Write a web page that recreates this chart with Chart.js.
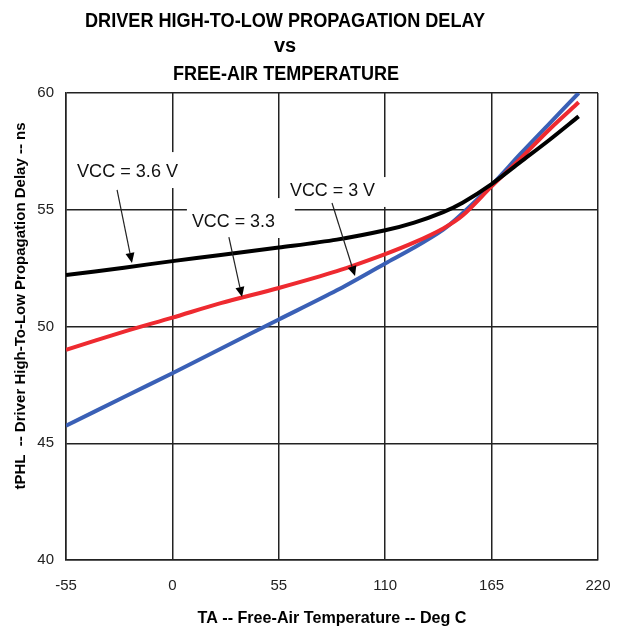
<!DOCTYPE html>
<html>
<head>
<meta charset="utf-8">
<script src="https://cdn.jsdelivr.net/npm/chart.js@4/dist/chart.umd.min.js"></script>
<style>
  html, body { margin: 0; padding: 0; background: #fff; }
  #wrap { position: relative; width: 622px; height: 630px; }
</style>
</head>
<body>
<div id="wrap"><canvas id="chart" width="622" height="630"></canvas></div>
<script>
// Free-air temperature (deg C) where the curves were read
const temps = [-55, -25, 0, 25, 55, 85, 110, 125, 140, 150, 165, 180, 195, 210];

// tPHL (ns) for each supply voltage
const vcc36 = [52.2, 52.52, 52.8, 53.06, 53.38, 53.72, 54.12, 54.45, 54.9, 55.3, 56.1, 57.05, 58.0, 59.0];
const vcc33 = [49.0, 49.78, 50.38, 51.0, 51.65, 52.37, 53.1, 53.6, 54.2, 54.75, 56.0, 57.2, 58.45, 59.6];
const vcc30 = [45.75, 46.98, 48.0, 49.05, 50.3, 51.55, 52.7, 53.38, 54.15, 54.85, 56.05, 57.4, 58.7, 60.0];

const xTicks = [-55, 0, 55, 110, 165, 220];
const yTicks = [40, 45, 50, 55, 60];

const titleLines = ['DRIVER HIGH-TO-LOW PROPAGATION DELAY', 'vs', 'FREE-AIR TEMPERATURE'];
const xTitle = 'TA -- Free-Air Temperature -- Deg C';
const yTitle = 'tPHL  -- Driver High-To-Low Propagation Delay -- ns';

// callouts, in data units (temp, ns)
const callouts = [
  { text: 'VCC = 3.6 V', tx: -49.3, ty: 56.62, box: [-51.9, 57.47, 5.5, 55.93], from: [-28.6, 55.85], to: [-20.9, 52.72] },
  { text: 'VCC = 3.3',   tx: 10.1,  ty: 54.48, box: [7.5, 55.5, 63.3, 53.79],   from: [29.2, 53.83],  to: [36.0, 51.26] },
  { text: 'VCC = 3 V',   tx: 60.8,  ty: 55.8,  box: [58.2, 56.4, 112.4, 55.12], from: [82.5, 55.29],  to: [94.4, 52.16] },
];
const calloutWidths = [101, 83, 85];

const FONT = '"Liberation Sans", Arial, sans-serif';

function series(vals) {
  return temps.map((t, i) => ({ x: t, y: vals[i] }));
}

const textPlugin = {
  id: 'texts',
  beforeDatasetsDraw(chart) {
    // white boxes behind the callouts break the grid like the original
    const { ctx, scales: { x, y } } = chart;
    ctx.save();
    ctx.fillStyle = '#fff';
    callouts.forEach(c => {
      const x0 = x.getPixelForValue(c.box[0]), y0 = y.getPixelForValue(c.box[1]);
      const x1 = x.getPixelForValue(c.box[2]), y1 = y.getPixelForValue(c.box[3]);
      ctx.fillRect(x0, y0, x1 - x0, y1 - y0);
    });
    ctx.restore();
  },
  afterDraw(chart) {
    const { ctx, scales: { x, y } } = chart;
    ctx.save();
    ctx.fillStyle = '#000';

    // title
    ctx.textAlign = 'center';
    ctx.textBaseline = 'alphabetic';
    ctx.font = 'bold 20px ' + FONT;
    ctx.fillText(titleLines[0], 285, 27, 400);
    ctx.fillText(titleLines[1], 285, 52);
    ctx.fillText(titleLines[2], 286, 80, 226);

    // axis titles
    ctx.font = 'bold 17px ' + FONT;
    ctx.fillText(xTitle, (chart.chartArea.left + chart.chartArea.right) / 2, 623, 269);
    ctx.save();
    ctx.translate(21, 306);
    ctx.rotate(-Math.PI / 2);
    ctx.textBaseline = 'middle';
    ctx.font = 'bold 15px ' + FONT;
    ctx.fillText(yTitle, 0, 0, 398);
    ctx.restore();

    // callouts
    ctx.textAlign = 'left';
    ctx.textBaseline = 'middle';
    ctx.font = '19px ' + FONT;
    callouts.forEach((c, i) => {
      ctx.fillStyle = '#111';
      ctx.fillText(c.text, x.getPixelForValue(c.tx), y.getPixelForValue(c.ty), calloutWidths[i]);
      const fx = x.getPixelForValue(c.from[0]), fy = y.getPixelForValue(c.from[1]);
      const tx = x.getPixelForValue(c.to[0]), ty = y.getPixelForValue(c.to[1]);
      const ang = Math.atan2(ty - fy, tx - fx);
      const head = 10, half = 4.5;
      ctx.strokeStyle = '#222';
      ctx.lineWidth = 1.2;
      ctx.beginPath();
      ctx.moveTo(fx, fy);
      ctx.lineTo(tx - head * Math.cos(ang), ty - head * Math.sin(ang));
      ctx.stroke();
      ctx.fillStyle = '#000';
      ctx.beginPath();
      ctx.moveTo(tx, ty);
      ctx.lineTo(tx - head * Math.cos(ang) + half * Math.sin(ang), ty - head * Math.sin(ang) - half * Math.cos(ang));
      ctx.lineTo(tx - head * Math.cos(ang) - half * Math.sin(ang), ty - head * Math.sin(ang) + half * Math.cos(ang));
      ctx.closePath();
      ctx.fill();
    });
    ctx.restore();
  }
};

const gridStyle = { color: '#222', lineWidth: 1.5, drawTicks: false };

new Chart(document.getElementById('chart'), {
  type: 'line',
  data: {
    datasets: [
      { label: 'VCC = 3.6 V', data: series(vcc36), borderColor: '#000000', borderWidth: 4 },
      { label: 'VCC = 3.3 V', data: series(vcc33), borderColor: '#ee2a30', borderWidth: 4 },
      { label: 'VCC = 3 V',   data: series(vcc30), borderColor: '#3a60b6', borderWidth: 4 },
    ],
  },
  options: {
    responsive: false,
    animation: false,
    devicePixelRatio: 1,
    layout: { padding: { top: 93, right: 24, left: 0, bottom: 0 } },
    elements: {
      point: { radius: 0 },
      line: { tension: 0.3, fill: false },
    },
    plugins: { legend: { display: false }, title: { display: false }, tooltip: { enabled: false } },
    scales: {
      x: {
        type: 'linear',
        min: xTicks[0],
        max: xTicks[xTicks.length - 1],
        afterBuildTicks: s => { s.ticks = xTicks.map(v => ({ value: v })); },
        afterFit: s => { s.height = 70; s.paddingLeft = 0; s.paddingRight = 0; },
        grid: gridStyle,
        border: { color: '#222', width: 1.5 },
        ticks: { padding: 17, color: '#222', font: { family: FONT, size: 15 } },
      },
      y: {
        min: yTicks[0],
        max: yTicks[yTicks.length - 1],
        afterBuildTicks: s => { s.ticks = yTicks.map(v => ({ value: v })); },
        afterFit: s => { s.width = 66; s.paddingTop = 0; s.paddingBottom = 0; },
        grid: gridStyle,
        border: { color: '#222', width: 1.5 },
        ticks: { padding: 12, color: '#222', font: { family: FONT, size: 15 } },
      },
    },
  },
  plugins: [textPlugin],
});
</script>
</body>
</html>
